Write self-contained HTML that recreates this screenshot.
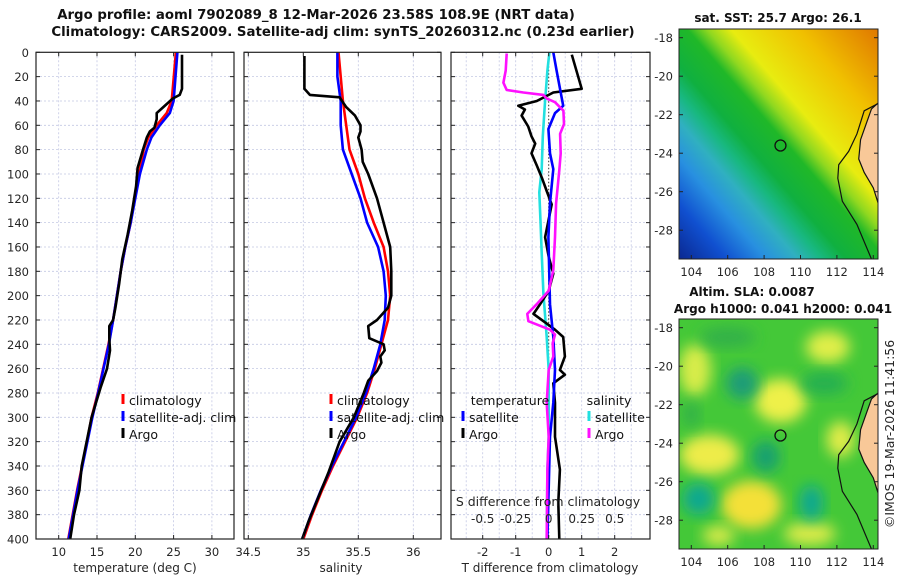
<!DOCTYPE html>
<html><head><meta charset="utf-8"><style>
body{margin:0;background:#fff;width:900px;height:580px;overflow:hidden}
svg{display:block;font-family:"DejaVu Sans","Liberation Sans",sans-serif}
</style></head><body>
<svg id="c" width="900" height="580" viewBox="0 0 900 580">
<defs>
<filter id="bl" x="-30%" y="-30%" width="160%" height="160%"><feGaussianBlur stdDeviation="7"/></filter>
<clipPath id="m1c"><rect x="679" y="29" width="199" height="230"/></clipPath>
<clipPath id="m2c"><rect x="679" y="319" width="199" height="230"/></clipPath>
<linearGradient id="sstg" x1="0" y1="1" x2="1" y2="0">
<stop offset="0" stop-color="#0a2890"/><stop offset="0.12" stop-color="#1050d0"/><stop offset="0.22" stop-color="#2890e0"/>
<stop offset="0.3" stop-color="#30b0c0"/><stop offset="0.36" stop-color="#18b880"/><stop offset="0.42" stop-color="#10b040"/>
<stop offset="0.52" stop-color="#20b828"/><stop offset="0.57" stop-color="#90d820"/><stop offset="0.63" stop-color="#e8ec10"/>
<stop offset="0.8" stop-color="#f0c000"/><stop offset="1" stop-color="#e07800"/>
</linearGradient>
</defs>
<g id="g"></g>
</svg>
<script>
// ---- data ----
const tempDepth=[0,40,50,60,70,80,100,120,140,160,180,200,220,240,280,300,320,360,400];
const tempClim=[25.3,24.75,24.1,22.8,21.7,21.1,20.5,19.9,19.4,18.7,18.1,17.6,17.1,16.5,15.1,14.3,13.7,12.4,11.25];
const tempSatDepth=[0,40,50,60,70,80,100,120,140,160,180,200,220,240,280,300,320,360,400];
const tempSat=[25.5,25.0,24.5,23.2,22.1,21.5,20.6,20.0,19.4,18.7,18.1,17.6,17.1,16.55,15.15,14.4,13.75,12.45,11.3];
const tempArgoDepth=[2,30,35,38,45,50,55,62,65,70,80,95,110,130,150,170,190,210,220,225,235,245,260,275,300,340,360,380,400];
const tempArgo=[26.1,26.1,25.8,24.9,23.65,22.8,22.8,22.5,21.9,21.5,21.0,20.3,20.1,19.6,19.0,18.3,17.9,17.4,17.1,16.6,16.6,16.7,16.3,15.5,14.3,13.0,12.7,12.0,11.5];
const salDepth=[0,20,40,60,80,100,120,140,160,180,200,220,240,260,280,300,320,340,360,380,400];
const salClim=[35.32,35.34,35.36,35.39,35.42,35.5,35.56,35.64,35.73,35.77,35.79,35.77,35.71,35.65,35.58,35.49,35.38,35.27,35.17,35.08,35.0];
const salSat=[35.31,35.31,35.34,35.34,35.36,35.44,35.52,35.58,35.68,35.73,35.75,35.74,35.70,35.64,35.57,35.48,35.37,35.26,35.16,35.07,34.99];
const salArgoDepth=[3,30,35,37,45,52,60,65,70,80,90,100,120,140,160,180,200,210,220,225,235,240,245,250,255,262,270,280,300,320,330,345,365,385,400];
const salArgo=[35.01,35.01,35.06,35.33,35.39,35.47,35.52,35.52,35.5,35.53,35.54,35.59,35.67,35.73,35.79,35.80,35.80,35.77,35.67,35.59,35.60,35.73,35.74,35.70,35.71,35.67,35.59,35.55,35.46,35.33,35.29,35.23,35.14,35.05,34.99];
const dTArgoDepth=[2,30,33,40,44,47,52,61,69,75,83,93,103,114,125,152,168,182,196,207,215,223,228,234,250,261,265,272,288,316,343,370,400];
const dTArgo=[0.70,1.0,0.14,-0.36,-0.92,-0.72,-0.82,-0.62,-0.52,-0.41,-0.52,-0.36,-0.21,-0.06,0.09,-0.11,0,0.14,0,-0.26,-0.46,-0.06,0.19,0.44,0.49,0.34,0.49,0.14,0.19,0.19,0.34,0.29,0.32];
const dTSatDepth=[0,15,37,44,50,63,83,96,124,152,207,234,261,288,316,400];
const dTSat=[0.14,0.24,0.39,0.44,0.19,-0.01,0.04,0.14,0.04,-0.01,0.04,0.14,0.19,0.14,0.04,-0.04];
const dSSatDepth=[0,15,41,69,96,115,141,165,198,234,261,288,316,343,400];
const dSSat=[0.005,-0.01,-0.028,-0.045,-0.053,-0.071,-0.061,-0.053,-0.04,-0.015,0,0,0,-0.01,-0.015];
const dSArgoDepth=[1,15,25,31,33,35,38,41,48,59,67,83,96,124,152,179,196,207,215,221,228,232,239,250,261,288,316,343,400];
const dSArgo=[-0.318,-0.326,-0.343,-0.318,-0.192,-0.04,-0.015,0.048,0.111,0.116,0.086,0.091,0.081,0.056,0.048,0.035,0,-0.091,-0.162,-0.154,0.01,0.048,0.03,0.035,0,-0.015,0,-0.01,-0.015];
const depthTicks=[0,20,40,60,80,100,120,140,160,180,200,220,240,260,280,300,320,340,360,380,400];
const tTicks=[10,15,20,25,30];
const sTicks=[34.5,35,35.5,36];
const dtTicks=[-2,-1,0,1,2];
const dsTicks=[-0.5,-0.25,0,0.25,0.5];
const lonTicks=[104,106,108,110,112,114];
const latTicks=[-18,-20,-22,-24,-26,-28];
const floatLon=108.9, floatLat=-23.6;

// ---- helpers ----
const NS='http://www.w3.org/2000/svg';
const G=document.getElementById('g');
function mk(tag,attrs,parent){const e=document.createElementNS(NS,tag);for(const k in attrs)e.setAttribute(k,attrs[k]);(parent||G).appendChild(e);return e;}
function txt(s,x,y,attrs,parent){const e=mk('text',Object.assign({x:x,y:y,'font-size':12,fill:'#262626','text-anchor':'middle'},attrs||{}),parent);e.textContent=s;return e;}
const TOP=52.3,BOT=539;
const yD=d=>TOP+(BOT-TOP)*d/400;
const P1={l:36,r:234}, P2={l:244,r:441}, P3={l:451,r:650};
const xT=t=>58.7+(t-10)*7.66;
const xS=s=>248.3+(s-34.5)*110;
const xDT=t=>548.7+33*t;
const xDS=s=>548.7+132*s;

function frame(P,name){
  const g=mk('g',{});
  
  
  mk('rect',{x:P.l,y:TOP,width:P.r-P.l,height:BOT-TOP,fill:'#fff'},g);
  depthTicks.forEach(d=>{if(d>0&&d<400)mk('line',{x1:P.l,x2:P.r,y1:yD(d),y2:yD(d),stroke:'#c4c8e4','stroke-width':0.8,'stroke-dasharray':'2,2'},g);});
  return g;
}
function vgrid(g,xs){xs.forEach(x=>mk('line',{x1:x,x2:x,y1:TOP,y2:BOT,stroke:'#c4c8e4','stroke-width':0.8,'stroke-dasharray':'2,2'},g));}
function ticks(g,P,xs){
  depthTicks.forEach(d=>{mk('line',{x1:P.l,x2:P.l+4,y1:yD(d),y2:yD(d),stroke:'#222'},g);mk('line',{x1:P.r-4,x2:P.r,y1:yD(d),y2:yD(d),stroke:'#222'},g);});
  xs.forEach(x=>{mk('line',{x1:x,x2:x,y1:BOT-4,y2:BOT,stroke:'#222'},g);mk('line',{x1:x,x2:x,y1:TOP,y2:TOP+4,stroke:'#222'},g);});
  mk('rect',{x:P.l,y:TOP,width:P.r-P.l,height:BOT-TOP,fill:'none',stroke:'#222','stroke-width':1.2},g);
}
function line(g,ds,vs,fx,color,name,w){
  const pts=ds.map((d,i)=>fx(vs[i]).toFixed(1)+','+yD(d).toFixed(1)).join(' ');
  const e=mk('polyline',{points:pts,fill:'none',stroke:color,'stroke-width':w||2.6,'stroke-linejoin':'round'},g);
  
  
  return e;
}
function legendEntry(g,x,y,color,label,name){
  const lg=mk('g',{},g);
  
  
  mk('line',{x1:x,x2:x,y1:y-11,y2:y-1,stroke:color,'stroke-width':3},lg);
  txt(label,x+6,y,{'text-anchor':'start',fill:'#111','font-size':12.5},lg);
}

// titles
const t1=txt('Argo profile: aoml 7902089_8 12-Mar-2026 23.58S 108.9E (NRT data)',316,19,{'font-weight':'bold',fill:'#111','font-size':13.3});

const t2=txt('Climatology: CARS2009. Satellite-adj clim: synTS_20260312.nc (0.23d earlier)',343,36,{'font-weight':'bold',fill:'#111','font-size':13.3});


// panel 1
const g1=frame(P1,'temperature-panel');
vgrid(g1,tTicks.map(xT));
line(g1,tempDepth,tempClim,xT,'#ff0000','temp-climatology-line');
line(g1,tempSatDepth,tempSat,xT,'#0000ff','temp-satellite-line');
line(g1,tempArgoDepth,tempArgo,xT,'#000','temp-argo-line');
ticks(g1,P1,tTicks.map(xT));
depthTicks.forEach(d=>{txt(String(d),29,yD(d)+4.5,{'text-anchor':'end','font-size':11.5},g1);});
tTicks.forEach(t=>txt(String(t),xT(t),556,{'font-size':11.5},g1));
const xl1=txt('temperature (deg C)',135,572,{},g1);
legendEntry(g1,123,405,'#ff0000','climatology','legend-climatology');
legendEntry(g1,123,422,'#0000ff','satellite-adj. clim','legend-satellite-adj');
legendEntry(g1,123,439,'#000','Argo','legend-argo');

// panel 2
const g2=frame(P2,'salinity-panel');
vgrid(g2,sTicks.map(xS));
line(g2,salDepth,salClim,xS,'#ff0000','sal-climatology-line');
line(g2,salDepth,salSat,xS,'#0000ff','sal-satellite-line');
line(g2,salArgoDepth,salArgo,xS,'#000','sal-argo-line');
ticks(g2,P2,sTicks.map(xS));
sTicks.forEach(s=>txt(String(s),xS(s),556,{'font-size':11.5},g2));
const xl2=txt('salinity',341,572,{},g2);
legendEntry(g2,331,405,'#ff0000','climatology','legend-climatology-2');
legendEntry(g2,331,422,'#0000ff','satellite-adj. clim','legend-satellite-adj-2');
legendEntry(g2,331,439,'#000','Argo','legend-argo-2');

// panel 3
const g3=frame(P3,'difference-panel');
vgrid(g3,[-2.5,-2,-1.5,-1,-0.5,0.5,1,1.5,2,2.5].map(xDT));
mk('line',{x1:xDT(0),x2:xDT(0),y1:TOP,y2:BOT,stroke:'#333','stroke-width':1,'stroke-dasharray':'1.5,2'},g3);
line(g3,dSSatDepth,dSSat,xDS,'#22e0e0','sal-diff-satellite-line');
line(g3,dTArgoDepth,dTArgo,xDT,'#000','temp-diff-argo-line');
line(g3,dTSatDepth,dTSat,xDT,'#0000ff','temp-diff-satellite-line');
line(g3,dSArgoDepth,dSArgo,xDS,'#ff10ff','sal-diff-argo-line');
ticks(g3,P3,dtTicks.map(xDT));
dtTicks.forEach(t=>txt(String(t),xDT(t),556,{'font-size':11.5},g3));
const xl3=txt('T difference from climatology',550,572,{},g3);
const xl4=txt('S difference from climatology',548,506,{'font-size':12.5},g3);
dsTicks.forEach(s=>txt(String(s),xDS(s),523,{'font-size':12},g3));
txt('temperature',510,405,{fill:'#111','font-size':12.5},g3);
txt('salinity',609,405,{fill:'#111','font-size':12.5},g3);
legendEntry(g3,463,422,'#0000ff','satellite','legend-t-satellite');
legendEntry(g3,463,439,'#000','Argo','legend-t-argo');
legendEntry(g3,589,422,'#22e0e0','satellite','legend-s-satellite');
legendEntry(g3,589,439,'#ff10ff','Argo','legend-s-argo');

// maps
function mapPanel(y0,latY0,name,kind){
  const g=mk('g',{});
  
  
  const lx=lon=>691.3+(lon-104)*18.2;
  const ly=lat=>latY0+(-18-lat)*19.25;
  const inner=mk('g',{'clip-path':kind==='sst'?'url(#m1c)':'url(#m2c)'},g);
  if(kind==='sst'){
    mk('rect',{x:679,y:y0,width:199,height:230,fill:'url(#sstg)'},inner);
  }else{
    mk('rect',{x:679,y:y0,width:199,height:230,fill:'#44c838'},inner);
    const blobs=[[108.9,-21.8,26,22,'#eef048'],[105,-24.6,30,20,'#eeec48'],[107.3,-27.2,30,24,'#f4e038'],[104.2,-20.2,16,26,'#d8ec48'],[111.5,-19.0,22,16,'#e0ee48'],[112.2,-23.8,14,18,'#e0ec48'],[110.5,-28.7,26,12,'#d8ea48'],[105.5,-28.8,16,10,'#d8ea48'],
      [106.8,-20.9,16,16,'#1c9c78'],[108.1,-24.7,14,16,'#18a070'],[104.4,-26.9,16,16,'#10a890'],[110.6,-27.1,12,18,'#10a890'],[111.3,-20.9,24,12,'#28b050'],[106,-18.5,28,10,'#30b048'],[104,-22.5,8,14,'#30b048']];
    blobs.forEach(b=>mk('ellipse',{cx:lx(b[0]),cy:ly(b[1]),rx:b[2],ry:b[3],fill:b[4],filter:'url(#bl)'},inner));
  }
  const land=[[114.6,-21.1],[113.9,-21.7],[113.6,-22.5],[113.3,-23.3],[113.2,-24.3],[113.5,-25.0],[114.0,-25.8],[114.3,-26.7],[114.6,-27.0]];
  mk('polygon',{points:land.map(p=>lx(p[0])+','+ly(p[1])).join(' ')+' '+lx(114.7)+','+ly(-27)+' '+lx(114.7)+','+ly(-21.1),fill:'#f8c898'},inner);
  const coast=[[114.5,-21.3],[113.5,-21.8],[113.1,-23.0],[112.65,-23.9],[112.1,-24.6],[112.05,-25.3],[112.3,-26.5],[113.1,-27.7],[113.9,-29.5]];
  mk('polyline',{points:coast.map(p=>lx(p[0])+','+ly(p[1])).join(' '),fill:'none',stroke:'#111','stroke-width':1.2},inner);
  mk('polyline',{points:land.map(p=>lx(p[0])+','+ly(p[1])).join(' '),fill:'none',stroke:'#111','stroke-width':1.2},inner);
  const fl=mk('circle',{cx:lx(floatLon),cy:ly(floatLat),r:5.5,fill:'none',stroke:'#111','stroke-width':1.3},g);
  
  
  mk('rect',{x:679,y:y0,width:199,height:230,fill:'none',stroke:'#222','stroke-width':1},g);
  latTicks.forEach(l=>{mk('line',{x1:679,x2:683,y1:ly(l),y2:ly(l),stroke:'#222'},g);mk('line',{x1:874,x2:878,y1:ly(l),y2:ly(l),stroke:'#222'},g);txt(String(l),673,ly(l)+4.5,{'text-anchor':'end','font-size':11.5},g);});
  lonTicks.forEach(l=>{mk('line',{x1:lx(l),x2:lx(l),y1:y0+226,y2:y0+230,stroke:'#222'},g);txt(String(l),lx(l),y0+247,{'font-size':11.5},g);});
}
mapPanel(29,37.7,'sst-map','sst');
mapPanel(319,327.7,'sla-map','sla');
const mt1=txt('sat. SST: 25.7 Argo: 26.1',778,22,{'font-weight':'bold',fill:'#111'});
const mt2=txt('Altim. SLA: 0.0087',752,296,{'font-weight':'bold',fill:'#111'});
const mt3=txt('Argo h1000: 0.041 h2000: 0.041',783,313,{'font-weight':'bold',fill:'#111'});
const cr=txt('©IMOS 19-Mar-2026 11:41:56',0,0,{transform:'translate(894,434) rotate(-90)','font-size':12.5});
</script>
</body></html>
